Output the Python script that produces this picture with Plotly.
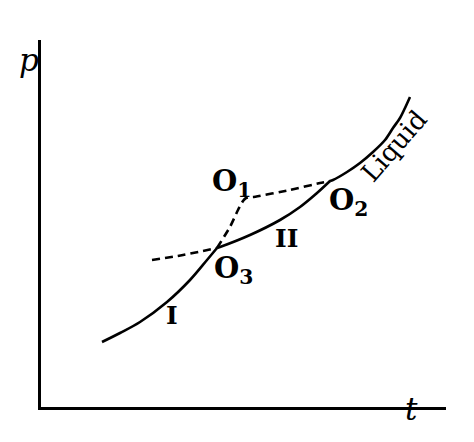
import plotly.graph_objects as go

# coordinates (x right, y up; data units)
curve1_x = [61, 79, 99, 126, 149, 166, 176]
curve1_y = [65, 74, 85, 105, 127, 147, 159]

curve2_x = [176, 179, 209, 239, 259, 276, 289]
curve2_y = [159, 160, 172, 187, 200, 214, 226]

liquid_x = [289, 292, 306, 319, 332, 344, 352, 359, 364, 369]
liquid_y = [226, 227, 235, 244, 255, 267, 279, 289, 299, 310]

dash_left_x = [111, 142, 176]
dash_left_y = [147, 152, 159]

dash_up_x = [176, 189, 197, 202, 205, 209, 212, 249, 279, 289]
dash_up_y = [159, 180, 197, 206, 209, 210, 210, 217, 224, 226]

labels = [
    ("O<sub>1</sub>", 190, 224, 29),
    ("O<sub>2</sub>", 307, 205, 29),
    ("O<sub>3</sub>", 192, 137, 29),
    ("II", 245, 169, 25),
    ("I", 131, 92, 25),
]

fig = go.Figure()
solid = dict(color="black", width=2.6)
dashed = dict(color="black", width=2.6, dash="8px,5px")
for xs, ys, ln, sm in [(curve1_x, curve1_y, solid, 1.0), (curve2_x, curve2_y, solid, 1.0),
                       (liquid_x, liquid_y, solid, 0.8), (dash_left_x, dash_left_y, dashed, 1.0),
                       (dash_up_x, dash_up_y, dashed, 0.4)]:
    fig.add_trace(go.Scatter(x=xs, y=ys, mode="lines",
                             line=dict(shape="spline", smoothing=sm, **ln),
                             hoverinfo="skip", showlegend=False))

for txt, x, y, sz in labels:
    fig.add_annotation(x=x, y=y, text="<b>" + txt + "</b>", showarrow=False,
                       font=dict(family="DejaVu Serif", size=sz, color="black"))

fig.add_annotation(x=353, y=261, text="Liquid", showarrow=False, textangle=-49,
                   font=dict(family="DejaVu Serif", size=26, color="black"))

fig.add_annotation(xref="paper", yref="paper", x=-0.06, y=1.0, text="<i>p</i>",
                   showarrow=False, font=dict(family="DejaVu Serif", size=31, color="black"))
fig.add_annotation(xref="paper", yref="paper", x=0.935, y=-0.06, text="<i>t</i>",
                   showarrow=False, font=dict(family="DejaVu Serif", size=31, color="black"))

fig.update_layout(
    width=474, height=442,
    margin=dict(l=33, r=36, t=32, b=43),
    paper_bgcolor="white", plot_bgcolor="white",
    xaxis=dict(range=[0, 405], showgrid=False, zeroline=False, showticklabels=False,
               ticks="", showline=True, linecolor="black", linewidth=2.8, fixedrange=True),
    yaxis=dict(range=[0, 367], showgrid=False, zeroline=False, showticklabels=False,
               ticks="", showline=True, linecolor="black", linewidth=2.8, fixedrange=True),
)

fig.write_html("out.html")
